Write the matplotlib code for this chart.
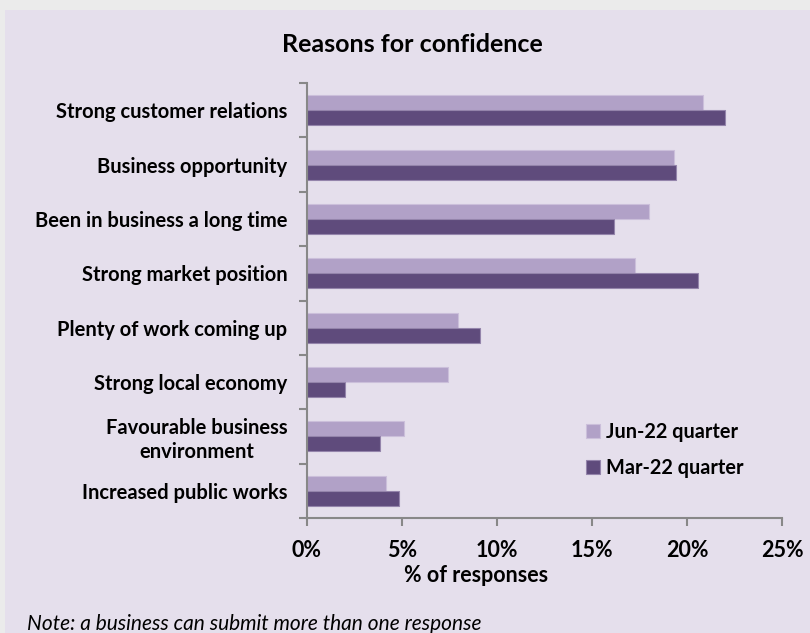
import matplotlib.pyplot as plt
from matplotlib.patches import Rectangle
import numpy as np

categories = ["Strong customer relations", "Business opportunity",
              "Been in business a long time", "Strong market position",
              "Plenty of work coming up", "Strong local economy",
              "Favourable business\nenvironment", "Increased public works"]
jun22 = [20.85, 19.33, 18.0, 17.25, 7.95, 7.4, 5.1, 4.15]
mar22 = [22.0, 19.4, 16.15, 20.6, 9.1, 2.0, 3.85, 4.85]
series_names = ["Jun-22 quarter", "Mar-22 quarter"]
xticks = [0, 5, 10, 15, 20, 25]

plt.rcParams['font.family'] = ['Lato', 'DejaVu Sans']

fig = plt.figure(figsize=(8.1, 6.33), dpi=100)
fig.patch.set_facecolor("#ebebeb")
fig.patches.append(Rectangle((5/810, 0), 1, 1 - 10/633, transform=fig.transFigure,
                             facecolor="#e5dfec", edgecolor="none", zorder=-10))

ax = fig.add_axes([307/810, 1 - 518/633, 475/810, 435/633])
ax.set_facecolor("none")

y = np.arange(len(categories))
h = 0.276
ax.barh(y - h/2, jun22, height=h, color="#b1a1c7", edgecolor="#cbbfda", linewidth=0.8,
        label=series_names[0])
ax.barh(y + h/2, mar22, height=h, color="#5f4b7c", edgecolor="#9484ab", linewidth=0.8,
        label=series_names[1])

ax.set_ylim(len(categories) - 0.5, -0.5)
ax.set_xlim(0, 25)

ax.set_yticks(y)
ax.set_yticklabels(categories, fontsize=14.5, fontweight="bold", multialignment="center")
ax.set_yticks(np.arange(len(categories) + 1) - 0.5, minor=True)
ax.tick_params(axis="y", which="major", length=0, pad=14)
ax.tick_params(axis="y", which="minor", length=6, width=1.5, color="#888888")

ax.set_xticks(xticks)
ax.set_xticklabels([f"{t}%" for t in xticks], fontsize=15.5, fontweight="bold")
ax.tick_params(axis="x", length=6, width=1.5, color="#888888", pad=10)

for s in ["top", "right"]:
    ax.spines[s].set_visible(False)
for s in ["left", "bottom"]:
    ax.spines[s].set_color("#888888")
    ax.spines[s].set_linewidth(1.5)

fig.text(412/810, 1 - 44/633, "Reasons for confidence", fontsize=18, fontweight="bold",
         ha="center", va="center")
fig.text(476/810, 1 - 575/633, "% of responses", fontsize=15.5, fontweight="bold",
         ha="center", va="center")
fig.text(27/810, 3/633, "Note: a business can submit more than one response",
         fontsize=15, style="italic", ha="left", va="baseline")

ax.legend(loc="upper left", bbox_to_anchor=((568 - 307)/475, (518 - 404)/435),
          frameon=False, handlelength=0.7, handleheight=0.7, handletextpad=0.3,
          labelspacing=0.8, prop={"size": 14.3, "weight": "bold"})

fig.savefig("out.png", dpi=100, facecolor=fig.get_facecolor())
